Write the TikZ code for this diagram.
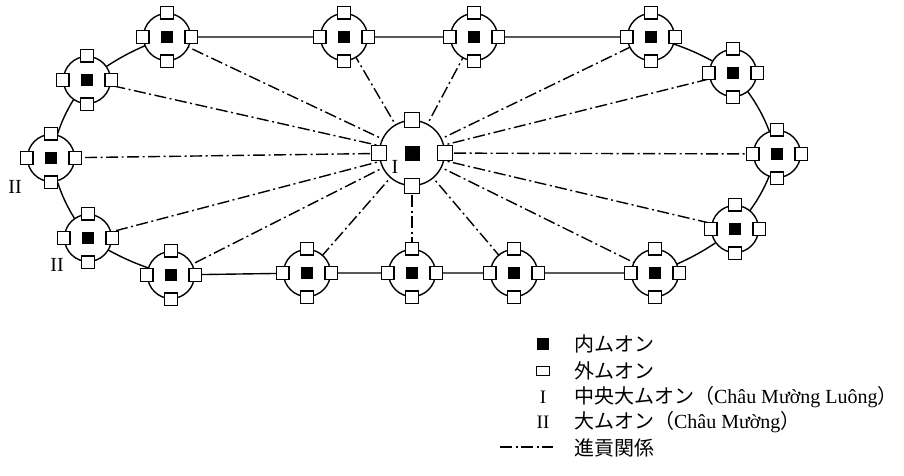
\documentclass[tikz,border=0pt]{standalone}
\usepackage{fontspec}
\setmainfont{Liberation Serif}
\newfontfamily\jp{Noto Sans CJK JP}
\begin{document}
\begin{tikzpicture}[x=1pt, y=1pt, line width=1.4pt,
  mura/.style={circle, draw, fill=white, minimum size=47pt, inner sep=0pt},
  chuo/.style={mura, minimum size=65pt},
  gai/.style={draw, fill=white, minimum size=12.5pt, inner sep=0pt},
  nai/.style={fill=black, minimum size=12pt, inner sep=0pt},
  kouken/.style={line width=1.4pt, dash pattern=on 12pt off 3.5pt on 2pt off 3.5pt}]
\useasboundingbox (0,0) rectangle (904,-475);
% centres of the muong
\coordinate (C) at (412,-153);
\coordinate (T1) at (167,-37);
\coordinate (T2) at (344,-37);
\coordinate (T3) at (474,-37);
\coordinate (T4) at (651,-37);
\coordinate (R1) at (733,-73);
\coordinate (R2) at (777,-154);
\coordinate (R3) at (735,-229);
\coordinate (B5) at (655,-273);
\coordinate (B4) at (514,-273);
\coordinate (B3) at (412,-273);
\coordinate (B2) at (307,-273);
\coordinate (B1) at (171,-275);
\coordinate (L2) at (88,-238);
\coordinate (L1) at (51,-158);
\coordinate (U1) at (87,-80);
% tribute lines
\foreach \m in {T1,T2,T3,T4,R1,R2,R3,B5,B4,B3,B2,B1,L2,L1,U1}
  \draw[kouken] (C)--(\m);
% ring
\draw (T1)--(T2)--(T3)--(T4) to[bend left=8] (R1) to[bend left=12] (R2)
  to[bend left=12] (R3) to[bend left=8] (B5)--(B4)--(B3)--(B2)--(B1)
  to[bend left=8] (L2) to[bend left=12] (L1) to[bend left=12] (U1)
  to[bend left=8] (T1);
% muong
\foreach \m in {T1,T2,T3,T4,R1,R2,R3,B5,B4,B3,B2,B1,L2,L1,U1}{
  \node[mura] (n\m) at (\m) {};
  \node[nai] at (\m) {};
  \foreach \a in {north,south,east,west}
    \node[gai] at (n\m.\a) {};
}
\node[chuo] (nC) at (C) {};
\node[nai, minimum size=15pt] at (C) {};
\foreach \a in {north,south,east,west}
  \node[gai, minimum size=15pt] at (nC.\a) {};
\node[font=\fontsize{20}{22}\selectfont] at (395,-167) {I};
\node[font=\fontsize{20}{22}\selectfont] at (15,-187) {II};
\node[font=\fontsize{20}{22}\selectfont] at (57,-265) {II};
% legend
\begin{scope}[font=\fontsize{20}{23}\selectfont]
\node[nai] (k1) at (543,-344) {};
\node[gai, minimum width=13pt, minimum height=9pt] (k2) at (543,-371) {};
\node[font=\fontsize{19}{21}\selectfont] (k3) at (543,-397) {I};
\node[font=\fontsize{19}{21}\selectfont] (k4) at (543,-422) {II};
\coordinate (k5a) at (500,-447);
\coordinate (k5b) at (553,-447);
\draw[kouken] (k5a)--(k5b);
\node[anchor=west] at (570,-344) {\jp 内ムオン};
\node[anchor=west] at (570,-371) {\jp 外ムオン};
\node[anchor=west] at (570,-397) {{\jp 中央大ムオン（}Châu Mường Luông{\jp ）}};
\node[anchor=west] at (570,-422) {{\jp 大ムオン（}Châu Mường{\jp ）}};
\node[anchor=west] at (570,-448) {\jp 進貢関係};
\end{scope}
\end{tikzpicture}
\end{document}
